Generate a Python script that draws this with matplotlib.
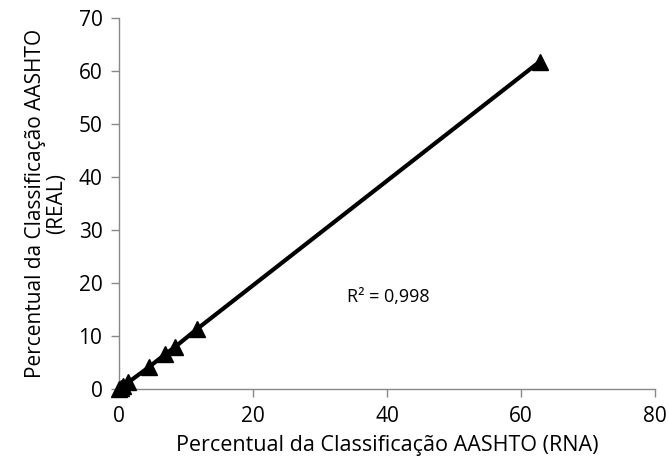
import matplotlib.pyplot as plt

# data
rna = [0.0, 0.3, 0.6, 1.4, 4.5, 6.9, 8.4, 11.6, 62.8]
real = [0.0, 0.2, 0.5, 1.3, 4.2, 6.6, 8.0, 11.3, 61.8]

x_ticks = [0, 20, 40, 60, 80]
y_ticks = [0, 10, 20, 30, 40, 50, 60, 70]

plt.rcParams['font.family'] = ['Open Sans', 'DejaVu Sans']

fig = plt.figure(figsize=(6.69, 4.66), dpi=100)
ax = fig.add_axes([0.178, 0.165, 0.801, 0.796])

ax.plot(rna, real, color='black', lw=3, marker='^', markersize=11,
        clip_on=False, zorder=3)

ax.set_xlim(0, 80)
ax.set_ylim(0, 70)
ax.set_xticks(x_ticks)
ax.set_yticks(y_ticks)

for s in ['top', 'right']:
    ax.spines[s].set_visible(False)
for s in ['left', 'bottom']:
    ax.spines[s].set_color('#888888')
    ax.spines[s].set_linewidth(1)
ax.tick_params(colors='#888888', labelcolor='black', labelsize=15,
               length=6, width=1, pad=6)

ax.set_xlabel('Percentual da Classificação AASHTO (RNA)', fontsize=15.5,
              labelpad=6)
ax.set_ylabel('Percentual da Classificação AASHTO\n(REAL)', fontsize=15,
              linespacing=1.0, labelpad=8)

ax.text(34, 17.3, 'R² = 0,998', fontsize=13, va='center')

fig.savefig('out.png', dpi=100)
